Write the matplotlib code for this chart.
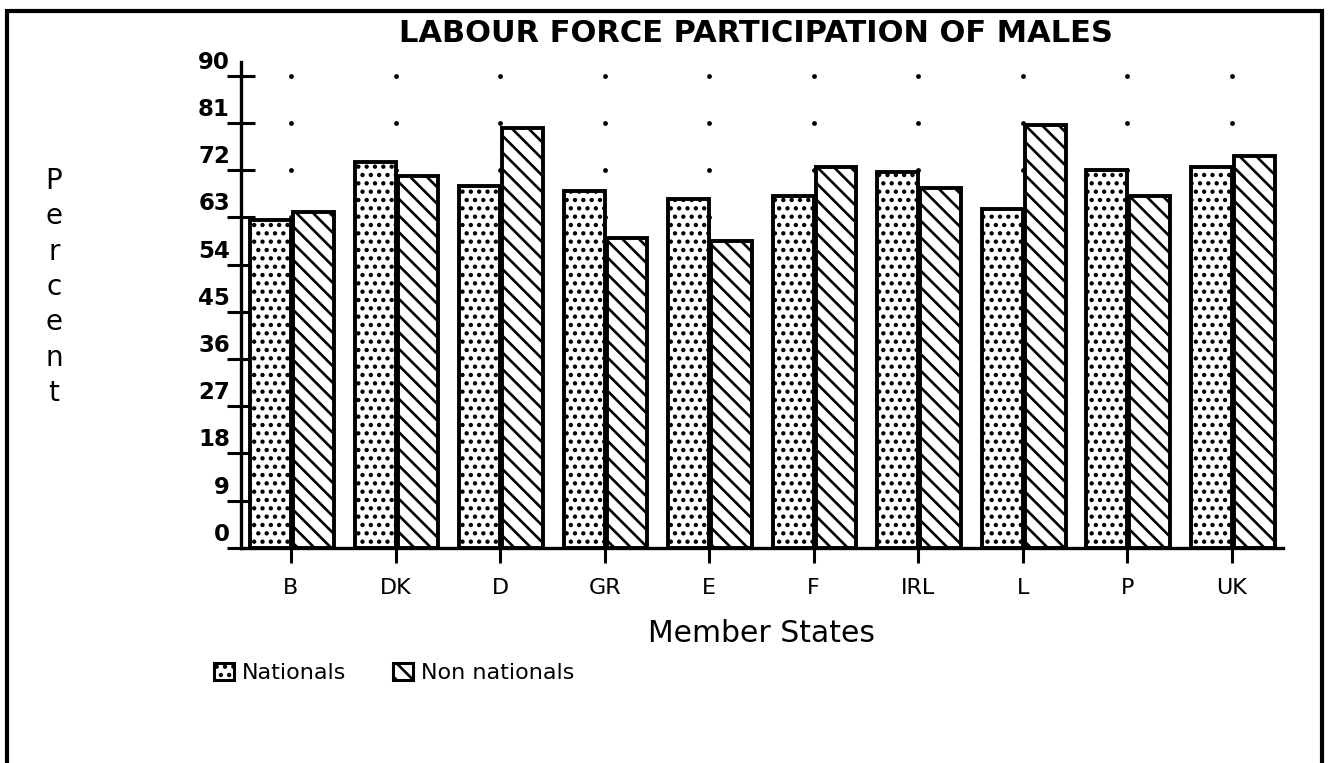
import numpy as np
import matplotlib.pyplot as plt
from matplotlib.patches import Patch, Rectangle

plt.rcParams['font.family'] = ['DejaVu Sans']
plt.rcParams['hatch.linewidth'] = 1.9

states = ['B', 'DK', 'D', 'GR', 'E', 'F', 'IRL', 'L', 'P', 'UK']
nationals = [62.5, 73.5, 69.0, 68.1, 66.6, 67.1, 71.6, 64.6, 72.1, 72.7]
non_nationals = [64.1, 70.9, 80.0, 59.1, 58.5, 72.7, 68.6, 80.7, 67.1, 74.7]
yticks = [0, 9, 18, 27, 36, 45, 54, 63, 72, 81, 90]

fig = plt.figure(figsize=(13.31, 7.63), dpi=100)
ax = fig.add_axes([241 / 1331, 215.3 / 763, 1042 / 1331, 486 / 763])

x = np.arange(len(states))
w = 0.39

# dotted grid at category positions (drawn under the bars)
gx, gy = np.meshgrid(x, yticks[1:])
ax.scatter(gx.ravel(), gy.ravel(), s=12, color='black', linewidths=0, zorder=1)

ax.bar(x - 0.195, nationals, w, facecolor='white', edgecolor='black',
       linewidth=2.8, hatch='..', zorder=2)
ax.bar(x + 0.215, non_nationals, w, facecolor='white', edgecolor='black',
       linewidth=2.8, hatch='\\\\', zorder=2)

ax.set_xlim(-0.478, 9.49)
ax.set_ylim(0, 92.7)
for s in ['top', 'right']:
    ax.spines[s].set_visible(False)
for s in ['left', 'bottom']:
    ax.spines[s].set_linewidth(2.4)
    ax.spines[s].set_zorder(3)

ax.set_yticks(yticks)
ax.set_yticklabels([])
ax.tick_params(axis='y', direction='inout', length=20, width=2.2)
ax.set_xticks(x)
ax.set_xticklabels(states, fontsize=16)
ax.tick_params(axis='x', direction='out', length=11, width=2.2, pad=11)

for v in yticks:
    ax.annotate(str(v), xy=(0, v), xycoords=('axes fraction', 'data'),
                xytext=(-8, 5), textcoords='offset points',
                ha='right', va='baseline', fontsize=16.5, fontweight='bold')

ax.set_xlabel('Member States', fontsize=21.5, labelpad=15)

fig.text(756 / 1331, 1 - 42 / 763, 'LABOUR FORCE PARTICIPATION OF MALES',
         ha='center', va='baseline', fontsize=22, fontweight='bold')
fig.text(54 / 1331, 1 - 287 / 763, '\n'.join('Percent'), ha='center',
         va='center', fontsize=20, linespacing=1.34)

handles = [Patch(facecolor='white', edgecolor='black', hatch='..', linewidth=2.2),
           Patch(facecolor='white', edgecolor='black', hatch='\\\\', linewidth=2.2)]
fig.legend(handles, ['Nationals', 'Non nationals'], ncol=2, frameon=False,
           loc='upper left', bbox_to_anchor=(214 / 1331, 1 - 663 / 763),
           fontsize=16, handlelength=0.9, handleheight=0.8, handletextpad=0.35,
           columnspacing=2.1, borderpad=0, borderaxespad=0)

fig.add_artist(Rectangle((6.5 / 1331, -0.05), 1315.5 / 1331, 1.05 - 10.5 / 763,
                         transform=fig.transFigure, fill=False,
                         edgecolor='black', linewidth=3))

fig.savefig('out.png', dpi=100)
